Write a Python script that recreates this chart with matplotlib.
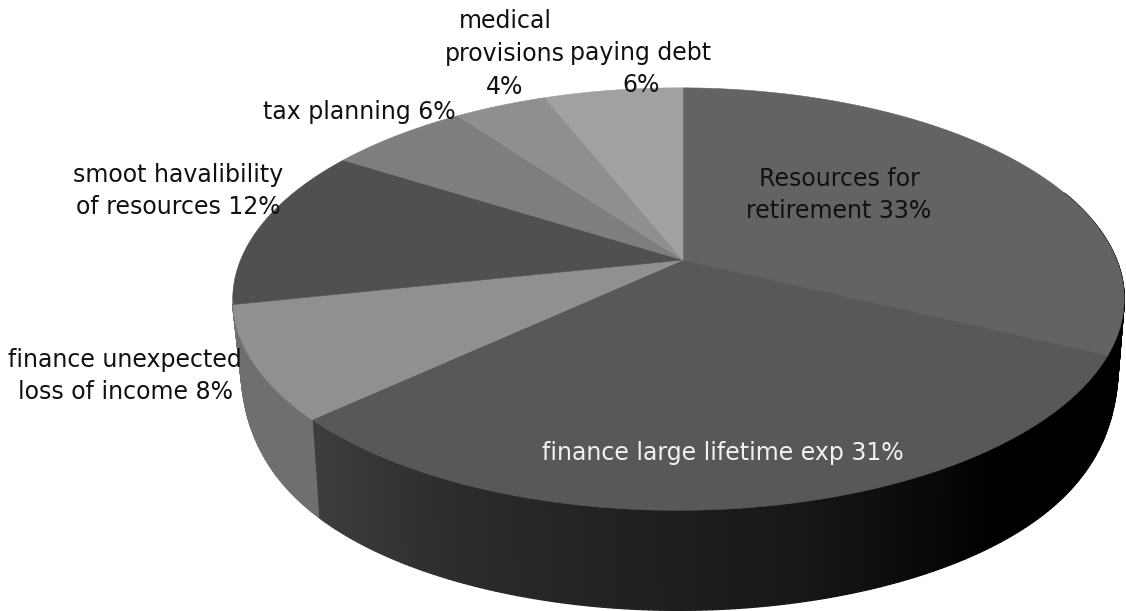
import numpy as np
import matplotlib
matplotlib.use("Agg")
import matplotlib.pyplot as plt
from matplotlib.patches import Polygon
from matplotlib.collections import PolyCollection

# Share of each savings motive, clockwise from twelve o'clock
motives = ["Resources for\nretirement 33%", "finance large lifetime exp 31%",
           "finance unexpected\nloss of income 8%", "smoot havalibility\nof resources 12%",
           "tax planning 6%", "medical\nprovisions\n4%", "paying debt\n6%"]
shares = [33, 31, 8, 12, 6, 4, 6]

top_greys = ["#636363", "#585858", "#909090", "#505050", "#7e7e7e", "#8f8f8f", "#a1a1a1"]
label_colors = ["#111111", "#f2f2f2", "#111111", "#111111", "#111111", "#111111", "#111111"]
label_xy = [(839, 195), (723, 453), (125, 376), (178, 191), (359, 112), (505, 54), (641, 69)]

CX, CY = 683, 260
B, A, K, M = 438, 204, 0.185, 0.010
TAPER = 0.985
FONT = ["DejaVu Sans"]


def warp(theta):
    """Slight skew of the near half of the disc in the 3D view."""
    return theta - np.radians(6.5) * np.exp(-((np.degrees(theta) - 175) / 65) ** 2)


def top_rim(theta):
    """Project angle(s) clockwise from north onto the tilted top face."""
    t = warp(theta)
    u, v = np.sin(t), np.cos(t)
    w = 1 + K * v + M * u
    return CX + B * u / w, CY - A * v / w


def bottom_rim(theta):
    """Lower edge of the wall under the same rim angle."""
    v = np.cos(warp(theta))
    x, y = top_rim(theta)
    depth = np.maximum(0, 100 - 75 * (1 + v) ** 3)
    return CX + (x - CX) * TAPER + 1, y + depth


def side_grey(theta, index):
    """Shade of the outer wall: darkens toward the lit-away right side."""
    if index == 2:
        return "#6f6f6f"
    deg = np.degrees(theta)
    stops_deg = [118, 148, 175, 205, 231]
    stops_grey = [0, 0, 24, 40, 62]
    g = np.interp(deg, stops_deg, stops_grey) / 255
    return (g, g, g)


fig = plt.figure(figsize=(11.26, 6.11), dpi=100)
ax = fig.add_axes([0, 0, 1, 1])
ax.set_xlim(0, 1126)
ax.set_ylim(611, 0)
ax.axis("off")

edges = np.radians(np.cumsum([0] + shares) / sum(shares) * 360)

# Outer wall, only the part facing the viewer
quads, colors = [], []
for i in range(len(shares)):
    t = np.linspace(edges[i], edges[i + 1], max(2, int(shares[i] * 6)))
    for a, b in zip(t[:-1], t[1:]):
        if not (np.radians(70) <= (a + b) / 2 <= edges[3]):
            continue
        xa, ya = top_rim(a)
        xb, yb = top_rim(b)
        xc, yc = bottom_rim(b)
        xd, yd = bottom_rim(a)
        quads.append([(xa, ya), (xb, yb), (xc, yc), (xd, yd)])
        colors.append(side_grey((a + b) / 2, i))
ax.add_collection(PolyCollection(quads, facecolors=colors, edgecolors=colors, linewidths=1.0))

# Top face wedges
for i in range(len(shares)):
    t = np.linspace(edges[i], edges[i + 1], 120)
    x, y = top_rim(t)
    pts = np.column_stack([np.r_[CX, x], np.r_[CY, y]])
    ax.add_patch(Polygon(pts, closed=True, facecolor=top_greys[i], edgecolor=top_greys[i], linewidth=0.4))

# Data labels
for text, xy, col in zip(motives, label_xy, label_colors):
    ax.text(xy[0], xy[1], text, color=col, ha="center", va="center", fontsize=17,
            family=FONT, linespacing=1.46)

fig.savefig("out.png", dpi=100)
